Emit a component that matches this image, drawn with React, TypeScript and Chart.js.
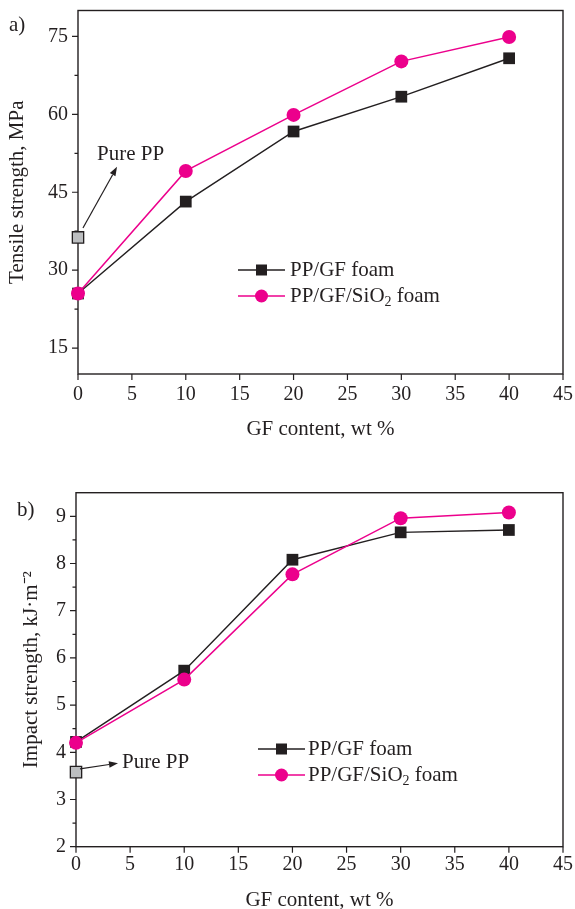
import React, { useEffect, useRef } from 'react';
import { Chart, registerables } from 'chart.js';

Chart.register(...registerables);

// ---------------- data ----------------
const gfContent = [0, 10, 20, 30, 40];
const tensilePPGF = [25.5, 43.2, 56.7, 63.4, 70.8];
const tensilePPGFSiO2 = [25.5, 49.1, 59.9, 70.2, 74.9];
const tensilePurePP = [36.3];
const impactPPGF = [4.22, 5.73, 8.08, 8.66, 8.71];
const impactPPGFSiO2 = [4.2, 5.54, 7.77, 8.96, 9.08];
const impactPurePP = [3.58];
const purePPContent = [0];

const xTickValues = [0, 5, 10, 15, 20, 25, 30, 35, 40, 45];
const tensileMajorTicks = [15, 30, 45, 60, 75];
const tensileMinorTicks = [22.5, 37.5, 52.5, 67.5];
const impactMajorTicks = [2, 3, 4, 5, 6, 7, 8, 9];
const impactMinorTicks = [2.5, 3.5, 4.5, 5.5, 6.5, 7.5, 8.5];

const seriesLabels = ['PP/GF foam', 'PP/GF/SiO2 foam', 'Pure PP'];

// ---------------- style ----------------
const FONT = '"Liberation Serif", "Times New Roman", serif';
const BLACK = '#231f20';
const PINK = '#ec008c';
const GRAY = '#bcbec0';

type Pt = { x: number; y: number };
const pts = (xs: number[], ys: number[]): Pt[] => ys.map((y, i) => ({ x: xs[i], y }));

interface PanelSpec {
  letter: string;
  letterX: number;
  letterY: number;
  canvasH: number;
  padTop: number;
  yWidth: number;
  xHeight: number;
  yMin: number;
  yMax: number;
  yMajor: number[];
  yMinor: number[];
  yTitle: string;
  yTitlePad: number;
  xTitlePad: number;
  xTickPad: number;
  gf: number[];
  sio2: number[];
  pure: number[];
  arrowTail: [number, number];
  arrowTip: [number, number];
  labelAt: [number, number];
  legend: { x0: number; x1: number; tx: number; y1: number; y2: number };
}

const decorPlugin = {
  id: 'decor',
  beforeDatasetsDraw(chart: any) {
    const spec: PanelSpec = chart.options.plugins.decor.spec;
    const { ctx, chartArea } = chart;
    const { left, right, top, bottom } = chartArea;
    ctx.save();
    ctx.strokeStyle = BLACK;
    ctx.lineWidth = 1.4;
    ctx.strokeRect(left, top, right - left, bottom - top);
    const ys = chart.scales.y;
    ctx.lineWidth = 1.2;
    ctx.beginPath();
    spec.yMajor.forEach((v) => {
      const p = ys.getPixelForValue(v);
      ctx.moveTo(left - 6, p);
      ctx.lineTo(left, p);
    });
    spec.yMinor.forEach((v) => {
      const p = ys.getPixelForValue(v);
      ctx.moveTo(left - 3.5, p);
      ctx.lineTo(left, p);
    });
    const xs = chart.scales.x;
    xTickValues.forEach((v) => {
      const p = xs.getPixelForValue(v);
      ctx.moveTo(p, bottom);
      ctx.lineTo(p, bottom + 6);
    });
    ctx.stroke();
    ctx.restore();
  },
  afterDraw(chart: any) {
    const spec: PanelSpec = chart.options.plugins.decor.spec;
    const { ctx } = chart;
    const xs = chart.scales.x;
    const ys = chart.scales.y;
    ctx.save();
    ctx.fillStyle = BLACK;
    ctx.textBaseline = 'middle';
    ctx.textAlign = 'left';
    ctx.font = `21px ${FONT}`;
    ctx.fillText(spec.letter, spec.letterX, spec.letterY);

    // Pure PP annotation
    const tx = xs.getPixelForValue(spec.arrowTail[0]);
    const ty = ys.getPixelForValue(spec.arrowTail[1]);
    const hx = xs.getPixelForValue(spec.arrowTip[0]);
    const hy = ys.getPixelForValue(spec.arrowTip[1]);
    const ang = Math.atan2(hy - ty, hx - tx);
    const headLen = 9;
    const bx = hx - headLen * Math.cos(ang);
    const by = hy - headLen * Math.sin(ang);
    ctx.strokeStyle = BLACK;
    ctx.lineWidth = 1.2;
    ctx.beginPath();
    ctx.moveTo(tx, ty);
    ctx.lineTo(bx, by);
    ctx.stroke();
    ctx.beginPath();
    ctx.moveTo(hx, hy);
    ctx.lineTo(bx + 3.2 * Math.sin(ang), by - 3.2 * Math.cos(ang));
    ctx.lineTo(bx - 3.2 * Math.sin(ang), by + 3.2 * Math.cos(ang));
    ctx.closePath();
    ctx.fill();
    ctx.fillText('Pure PP', xs.getPixelForValue(spec.labelAt[0]), ys.getPixelForValue(spec.labelAt[1]));

    // legend
    const L = spec.legend;
    const mid = (L.x0 + L.x1) / 2;
    ctx.lineWidth = 1.5;
    ctx.strokeStyle = BLACK;
    ctx.beginPath();
    ctx.moveTo(L.x0, L.y1);
    ctx.lineTo(L.x1, L.y1);
    ctx.stroke();
    ctx.fillStyle = BLACK;
    ctx.fillRect(mid - 5.5, L.y1 - 5.5, 11, 11);
    ctx.strokeStyle = PINK;
    ctx.beginPath();
    ctx.moveTo(L.x0, L.y2);
    ctx.lineTo(L.x1, L.y2);
    ctx.stroke();
    ctx.fillStyle = PINK;
    ctx.beginPath();
    ctx.arc(mid, L.y2, 6.5, 0, Math.PI * 2);
    ctx.fill();

    ctx.fillStyle = BLACK;
    ctx.font = `21px ${FONT}`;
    ctx.fillText(seriesLabels[0], L.tx, L.y1);
    const base = 'PP/GF/SiO';
    ctx.fillText(base, L.tx, L.y2);
    let w = ctx.measureText(base).width;
    ctx.font = `14px ${FONT}`;
    ctx.fillText('2', L.tx + w, L.y2 + 6);
    w += ctx.measureText('2').width;
    ctx.font = `21px ${FONT}`;
    ctx.fillText(' foam', L.tx + w, L.y2);
    ctx.restore();
  },
};

function buildConfig(spec: PanelSpec): any {
  return {
    type: 'line',
    data: {
      datasets: [
        {
          label: seriesLabels[1],
          data: pts(gfContent, spec.sio2),
          borderColor: PINK,
          backgroundColor: PINK,
          borderWidth: 1.5,
          pointStyle: 'circle',
          pointRadius: 7,
          pointBorderWidth: 0,
          order: 0,
          clip: false,
        },
        {
          label: seriesLabels[0],
          data: pts(gfContent, spec.gf),
          borderColor: BLACK,
          backgroundColor: BLACK,
          borderWidth: 1.4,
          pointStyle: 'rect',
          pointRadius: 8.3,
          pointBorderWidth: 0,
          order: 1,
          clip: false,
        },
        {
          label: seriesLabels[2],
          data: pts(purePPContent, spec.pure),
          borderColor: BLACK,
          backgroundColor: GRAY,
          pointStyle: 'rect',
          pointRadius: 8,
          pointBorderWidth: 1.3,
          pointBorderColor: BLACK,
          pointBackgroundColor: GRAY,
          showLine: false,
          order: 2,
          clip: false,
        },
      ],
    },
    options: {
      animation: false,
      responsive: false,
      devicePixelRatio: 1,
      layout: { padding: { left: 0, right: 12, top: spec.padTop, bottom: 0 } },
      plugins: {
        legend: { display: false },
        tooltip: { enabled: false },
        decor: { spec },
      },
      scales: {
        x: {
          type: 'linear',
          min: 0,
          max: 45,
          afterBuildTicks: (s: any) => {
            s.ticks = xTickValues.map((v) => ({ value: v }));
          },
          afterFit: (s: any) => {
            s.height = spec.xHeight;
            s.paddingLeft = 0;
            s.paddingRight = 0;
          },
          ticks: {
            font: { family: FONT, size: 20 },
            color: BLACK,
            padding: spec.xTickPad,
            maxRotation: 0,
            autoSkip: false,
            callback: (v: any) => String(v),
          },
          grid: { display: false, drawTicks: false },
          border: { display: false },
          title: {
            display: true,
            text: 'GF content, wt %',
            font: { family: FONT, size: 21 },
            color: BLACK,
            padding: { top: 0, bottom: spec.xTitlePad },
          },
        },
        y: {
          type: 'linear',
          min: spec.yMin,
          max: spec.yMax,
          afterBuildTicks: (s: any) => {
            s.ticks = spec.yMajor
              .concat(spec.yMinor)
              .sort((a, b) => a - b)
              .map((v) => ({ value: v }));
          },
          afterFit: (s: any) => {
            s.width = spec.yWidth;
            s.paddingTop = 0;
            s.paddingBottom = 0;
          },
          ticks: {
            font: { family: FONT, size: 20 },
            color: BLACK,
            padding: 10,
            autoSkip: false,
            callback: (v: any) => (spec.yMajor.includes(Number(v)) ? String(v) : ''),
          },
          grid: { display: false, drawTicks: false },
          border: { display: false },
          title: {
            display: true,
            text: spec.yTitle,
            font: { family: FONT, size: 21 },
            color: BLACK,
            padding: { top: spec.yTitlePad, bottom: 0 },
          },
        },
      },
    },
    plugins: [decorPlugin],
  };
}

const topSpec: PanelSpec = {
  letter: 'a)',
  letterX: 9,
  letterY: 25,
  canvasH: 445,
  padTop: 10.5,
  yWidth: 78,
  xHeight: 71,
  yMin: 10,
  yMax: 80,
  yMajor: tensileMajorTicks,
  yMinor: tensileMinorTicks,
  yTitle: 'Tensile strength, MPa',
  yTitlePad: 5,
  xTitlePad: 3.4,
  xTickPad: 9,
  gf: tensilePPGF,
  sio2: tensilePPGFSiO2,
  pure: tensilePurePP,
  arrowTail: [0.46, 38.1],
  arrowTip: [3.62, 49.9],
  labelAt: [1.76, 52.2],
  legend: { x0: 238, x1: 285, tx: 290, y1: 270, y2: 296 },
};

const bottomSpec: PanelSpec = {
  letter: 'b)',
  letterX: 17,
  letterY: 65,
  canvasH: 470,
  padTop: 47.7,
  yWidth: 76,
  xHeight: 68.3,
  yMin: 2,
  yMax: 9.5,
  yMajor: impactMajorTicks,
  yMinor: impactMinorTicks,
  yTitle: 'Impact strength, kJ·m⁻²',
  yTitlePad: 18.4,
  xTitlePad: 2.4,
  xTickPad: 6.3,
  gf: impactPPGF,
  sio2: impactPPGFSiO2,
  pure: impactPurePP,
  arrowTail: [0.37, 3.65],
  arrowTip: [3.88, 3.77],
  labelAt: [4.25, 3.79],
  legend: { x0: 258, x1: 305, tx: 308, y1: 304, y2: 330 },
};

function Panel({ spec, top }: { spec: PanelSpec; top: number }) {
  const ref = useRef<HTMLCanvasElement | null>(null);
  useEffect(() => {
    if (!ref.current) return;
    const chart = new Chart(ref.current, buildConfig(spec));
    return () => chart.destroy();
  }, [spec]);
  return (
    <canvas
      ref={ref}
      width={575}
      height={spec.canvasH}
      style={{ position: 'absolute', left: 0, top, width: 575, height: spec.canvasH, display: 'block' }}
    />
  );
}

export default function App() {
  return (
    <div
      style={{
        position: 'absolute',
        left: 0,
        top: 0,
        width: 575,
        height: 909,
        overflow: 'hidden',
        background: '#ffffff',
      }}
    >
      <Panel spec={topSpec} top={0} />
      <Panel spec={bottomSpec} top={445} />
    </div>
  );
}
